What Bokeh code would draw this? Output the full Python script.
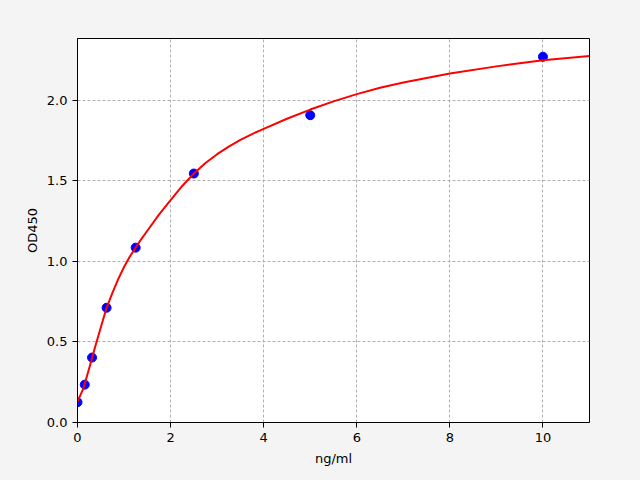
from bokeh.plotting import figure
from bokeh.models import Range1d, FixedTicker, CustomJSTickFormatter
from bokeh.embed import file_html
from bokeh.resources import INLINE

FONT = 'DejaVu Sans'

# standards
conc = [0, 0.156, 0.3125, 0.625, 1.25, 2.5, 5, 10]
od = [0.126, 0.235, 0.403, 0.712, 1.085, 1.545, 1.907, 2.27]

# fitted curve
fit_x = [0, 0.125, 0.25, 0.375, 0.5, 0.625, 0.75, 0.875, 1, 1.125, 1.25, 1.375, 1.5,
         1.75, 2, 2.25, 2.5, 2.75, 3, 3.25, 3.5, 3.75, 4, 4.5, 5, 5.5, 6, 6.5, 7,
         8, 9, 10, 11]
fit_y = [0.13, 0.21, 0.335, 0.466, 0.59, 0.712, 0.805, 0.89, 0.965, 1.03, 1.085, 1.14,
         1.19, 1.29, 1.38, 1.468, 1.545, 1.61, 1.665, 1.7125, 1.754, 1.79, 1.8225,
         1.885, 1.942, 1.993, 2.038, 2.077, 2.11, 2.166, 2.21, 2.248, 2.275]

x_ticks = [0, 2, 4, 6, 8, 10]
y_ticks = [0.0, 0.5, 1.0, 1.5, 2.0]

p = figure(
    width=624,
    height=468,
    x_range=Range1d(0, 11),
    y_range=Range1d(0, 2.383),
    x_axis_label='ng/ml',
    y_axis_label='OD450',
    toolbar_location=None,
    tools='',
    output_backend='svg',
    min_border_left=77,
    min_border_right=35,
    min_border_top=38,
    min_border_bottom=46,
)

p.border_fill_color = '#f4f4f4'
p.background_fill_color = 'white'
p.outline_line_color = 'black'
p.outline_line_width = 1

p.xaxis.ticker = FixedTicker(ticks=x_ticks)
p.yaxis.ticker = FixedTicker(ticks=y_ticks)
p.yaxis.formatter = CustomJSTickFormatter(code="return tick.toFixed(1);")

p.axis.minor_tick_line_color = None
p.axis.major_tick_in = 0
p.axis.major_tick_out = 5
p.axis.axis_line_color = 'black'
p.axis.major_tick_line_color = 'black'
p.axis.major_label_text_font = FONT
p.axis.major_label_text_font_size = '13px'
p.axis.major_label_text_color = 'black'
p.axis.axis_label_text_font = FONT
p.axis.axis_label_text_font_size = '13px'
p.axis.axis_label_text_font_style = 'normal'
p.axis.axis_label_text_color = 'black'
p.xaxis.axis_label_standoff = 6
p.yaxis.axis_label_standoff = 4

p.grid.grid_line_color = '#b0b0b0'
p.grid.grid_line_dash = '3 2'
p.grid.grid_line_width = 1

p.scatter(conc, od, size=9, color='#0000ff')
p.line(fit_x, fit_y, color='#ff0000', line_width=2)

html = file_html(p, INLINE)
html = html.replace('<head>', '<head><style>html, body {background: #f4f4f4;}</style>', 1)
open("out.html", "w").write(html)
